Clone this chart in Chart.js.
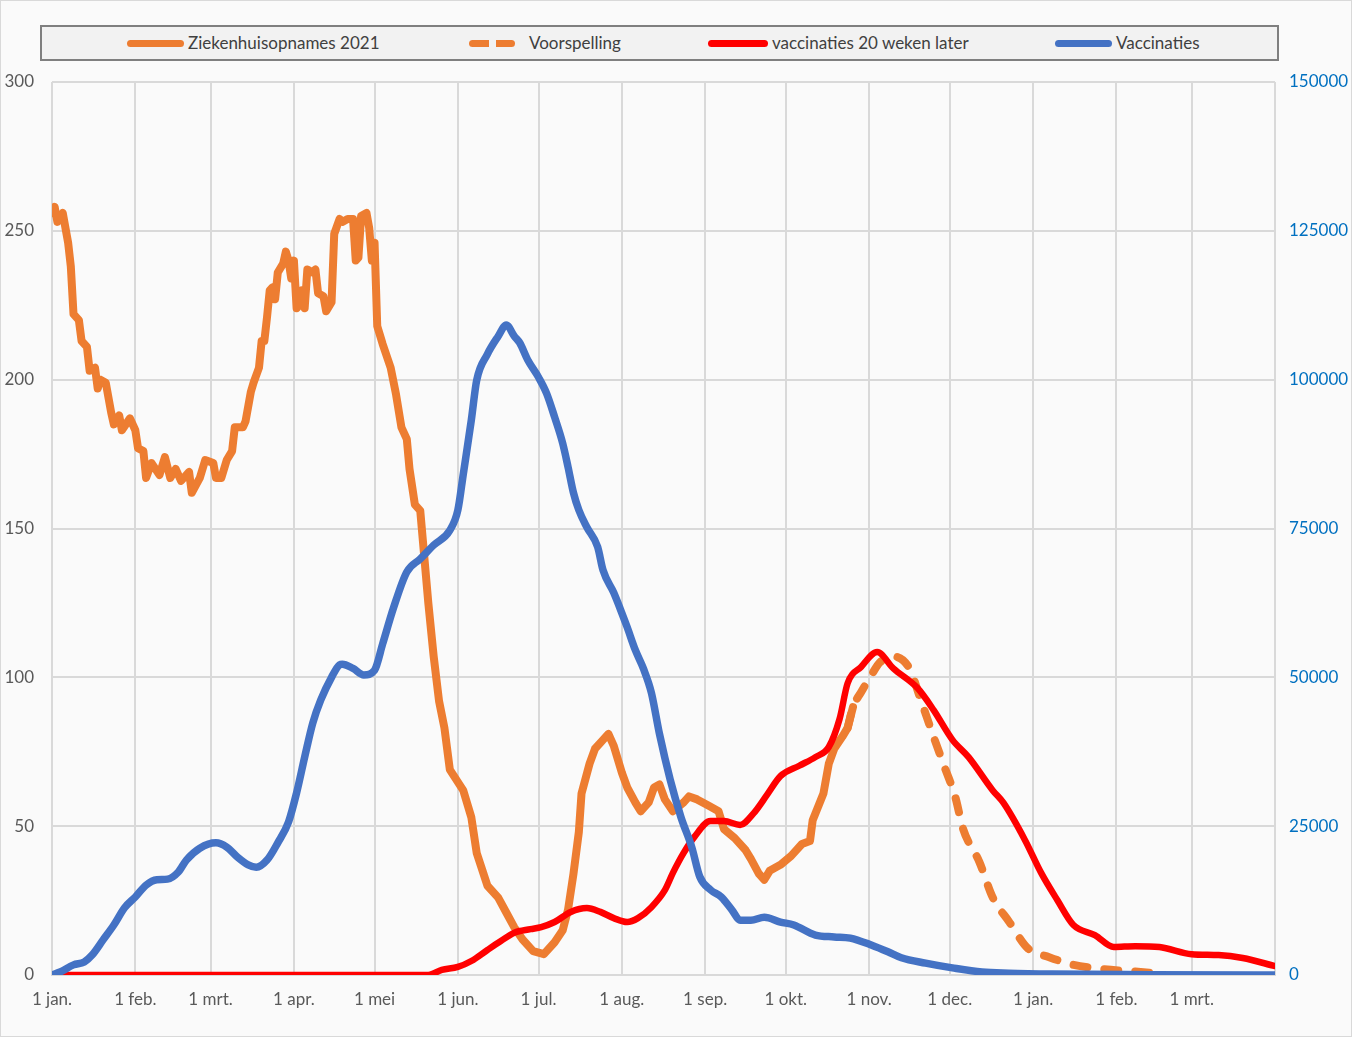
<!DOCTYPE html>
<html>
<head>
<meta charset="utf-8">
<script src="https://cdn.jsdelivr.net/npm/chart.js@4.4.1/dist/chart.umd.min.js"></script>
<style>
    html, body { margin: 0; padding: 0; background: #fff; }
    #wrap {
        position: relative;
        width: 1350px;
        height: 1035px;
        border: 1px solid #d9d9d9;
        background: #fafafa;
        font-family: Lato, "Open Sans", sans-serif;
    }
    #legend {
        position: absolute;
        left: 39px;
        top: 24px;
        width: 1235px;
        height: 32px;
        background: #f2f2f2;
        border: 2px solid #7f7f7f;
    }
    .item {
        position: absolute;
        top: 0;
        height: 32px;
        line-height: 32px;
        font-size: 17px;
        color: #404040;
        white-space: nowrap;
    }
    .swatch {
        display: inline-block;
        vertical-align: middle;
        height: 7px;
        border-radius: 4px;
        margin-right: 4px;
        position: relative;
        top: -1px;
    }
    canvas { display: block; }
</style>
</head>
<body>
<div id="wrap">
    <canvas id="chart" width="1350" height="1035"></canvas>
    <div id="legend"></div>
</div>
<script>
// x = days since 1 jan 2021
const monthDays = [0, 31, 59, 90, 120, 151, 181, 212, 243, 273, 304, 334, 365, 396, 424, 455];
const monthLabels = ['1 jan.', '1 feb.', '1 mrt.', '1 apr.', '1 mei', '1 jun.', '1 jul.', '1 aug.',
    '1 sep.', '1 okt.', '1 nov.', '1 dec.', '1 jan.', '1 feb.', '1 mrt.', ''];

const seriesNames = ['Ziekenhuisopnames 2021', 'Voorspelling', 'vaccinaties 20 weken later', 'Vaccinaties'];
const seriesColors = ['#ED7D31', '#ED7D31', '#FF0000', '#4472C4'];

const opnameDagen = [0, 1, 2, 4, 6, 7, 8, 10, 11, 13, 14, 16, 17, 18, 20, 22, 23, 25, 26, 29, 31, 32, 34, 35, 37, 40, 42, 44, 46, 48,
    51, 52, 55, 57, 60, 61, 63, 65, 67, 68, 71, 72, 74, 75, 77, 78, 79, 80, 81, 82, 83, 84, 86, 87, 88, 89, 90, 91, 92, 93,
    94, 95, 97, 98, 99, 101, 102, 104, 105, 107, 108, 110, 112, 113, 114, 115, 117, 118, 119, 120, 121, 123, 126, 128, 130,
    132, 133, 135, 137, 140, 142, 144, 146, 148, 153, 156, 158, 162, 166, 169, 172, 175, 179, 183, 187, 190, 192, 194, 196,
    197, 200, 202, 205, 207, 209, 212, 214, 217, 219, 222, 224, 226, 228, 231, 235, 237, 240, 244, 248, 250, 254, 258, 260,
    263, 265, 267, 271, 275, 279, 282, 283, 287, 289, 291, 294, 296, 298];
const opnameWaarden = [256, 258, 253, 256, 246, 238, 222, 220, 213, 211, 203, 204, 197, 200, 199, 189, 185, 188, 183, 187, 183, 177, 176, 167, 172, 168, 174, 167, 170, 166,
    169, 162, 167, 173, 172, 167, 167, 173, 176, 184, 184, 186, 196, 199, 204, 213, 213, 221, 230, 231, 227, 236, 239, 243, 240, 234, 240, 224, 225, 230,
    224, 237, 236, 237, 229, 228, 223, 226, 249, 254, 253, 254, 254, 240, 241, 255, 256, 251, 240, 246, 218, 212, 204, 195, 184,
    180, 170, 158, 156, 125, 107, 92, 83, 69, 62, 53, 41, 30, 26, 21, 16, 12, 8, 7, 11, 15, 22, 34, 48,
    61, 71, 76, 79, 81, 77, 68, 63, 58, 55, 58, 63, 64, 59, 55, 58, 60, 59, 57, 55, 49, 46, 42, 39,
    34, 32, 35, 37, 40, 44, 45, 52, 61, 71, 76, 80, 83, 90];

const voorspellingDagen = [296, 298, 301, 305, 308, 313, 319, 323, 328, 332, 336, 339, 345, 350, 356, 363, 371, 380, 391, 405, 413];
const voorspellingWaarden = [83, 90, 95, 101, 105, 107, 103, 93, 80, 70, 60, 49, 38, 26, 18, 9, 6, 3.4, 2, 1, 0.3];

const laterDagen = [0, 140, 145, 151, 156, 162, 167, 172, 178, 182, 187, 193, 199, 204, 209, 214, 218, 223, 228, 231, 235, 239,
    245, 250, 256, 261, 266, 271, 278, 284, 289, 293, 296, 301, 307, 313, 322, 328, 335, 341, 350, 354, 362, 368, 374,
    380, 388, 395, 403, 412, 424, 434, 443, 455];
const laterWaarden = [0, 0, 1.7, 2.7, 4.7, 8.4, 11.4, 14.2, 15.4, 16.1, 17.8, 21.2, 22.5, 21.2, 19.1, 17.8, 19.1, 22.8, 28.5, 34.3, 41, 46.4,
    51.7, 51.7, 50.4, 54.3, 60.5, 66.8, 70.3, 73.2, 76.6, 86, 98, 103.5, 108.5, 103, 96.4, 89, 79, 73.2, 62, 57.8, 45.3, 34.3, 25.2,
    16.8, 13.4, 9.4, 9.7, 9.4, 7, 6.7, 5.7, 3];

const vaccinatieDagen = [0, 3, 8, 12, 15, 19, 23, 27, 31, 35, 39, 43, 47, 50, 55, 61, 65, 69, 73, 76, 80, 84, 88, 91, 94, 97, 100,
    104, 107, 108, 112, 116, 120, 123, 127, 132, 137, 142, 148, 151, 153, 156, 158, 162, 166, 169, 172, 174, 177, 181, 184,
    187, 190, 192, 194, 196, 199, 203, 205, 209, 212, 214, 217, 220, 223, 226, 230, 234, 238, 241, 245, 249, 253, 256, 260,
    265, 271, 276, 284, 291, 297, 305, 311, 316, 325, 335, 346, 356, 372, 409, 455];
const vaccinatieWaarden = [0, 500, 1700, 2200, 3400, 5900, 8400, 11300, 13100, 15100, 16000, 16100, 17300, 19300, 21300, 22200, 21500, 19800, 18500, 18100, 19300, 22200, 25700, 30600, 36600, 42300, 46200,
    50000, 52100, 52200, 51500, 50400, 51200, 55600, 61600, 67700, 69900, 72200, 74700, 78100, 84100, 93200, 99900, 104300, 107300, 109200, 107300, 106200, 103300, 100400, 97700,
    93700, 89300, 85300, 81000, 78100, 75200, 71900, 68000, 64200, 60800, 58400, 54600, 51500, 47400, 40500, 32800, 26500, 21500, 16500, 14300, 13100, 10900, 9200, 9200,
    9700, 8900, 8400, 6700, 6400, 6200, 5000, 3900, 2900, 2000, 1200, 500, 300, 150, 50, 0];

function toPoints(days, values) {
    return days.map((d, i) => ({ x: d, y: values[i] }));
}

// legend (html, Excel style box)
const legendLefts = [85, 427, 666, 1013];
const legendSwatchWidths = [57, 46, 60, 57];
const legend = document.getElementById('legend');
seriesNames.forEach((name, i) => {
    const item = document.createElement('div');
    item.className = 'item';
    item.style.left = legendLefts[i] + 'px';
    const sw = document.createElement('span');
    sw.className = 'swatch';
    sw.style.width = legendSwatchWidths[i] + 'px';
    if (i === 1) {
        sw.style.background = 'repeating-linear-gradient(90deg, ' + seriesColors[i] + ' 0 20px, transparent 20px 27px)';
        sw.style.marginRight = '14px';
    } else {
        sw.style.background = seriesColors[i];
    }
    item.appendChild(sw);
    item.appendChild(document.createTextNode(name));
    legend.appendChild(item);
});

const gridColor = '#d9d9d9';
const tickFont = { family: 'Lato', size: 17 };

new Chart(document.getElementById('chart'), {
    type: 'line',
    data: {
        datasets: [
            {
                label: seriesNames[0],
                data: toPoints(opnameDagen, opnameWaarden),
                borderColor: seriesColors[0],
                borderWidth: 8,
                tension: 0,
                yAxisID: 'y',
                order: 4
            },
            {
                label: seriesNames[1],
                data: toPoints(voorspellingDagen, voorspellingWaarden),
                borderColor: seriesColors[1],
                borderWidth: 8,
                borderDash: [14, 17],
                cubicInterpolationMode: 'monotone',
                yAxisID: 'y',
                order: 3
            },
            {
                label: seriesNames[2],
                data: toPoints(laterDagen, laterWaarden),
                borderColor: seriesColors[2],
                borderWidth: 6.5,
                cubicInterpolationMode: 'monotone',
                yAxisID: 'y',
                order: 2
            },
            {
                label: seriesNames[3],
                data: toPoints(vaccinatieDagen, vaccinatieWaarden),
                borderColor: seriesColors[3],
                borderWidth: 7.5,
                cubicInterpolationMode: 'monotone',
                yAxisID: 'y1',
                order: 1
            }
        ]
    },
    options: {
        responsive: false,
        animation: false,
        elements: {
            point: { radius: 0 },
            line: { borderCapStyle: 'round', borderJoinStyle: 'round', fill: false }
        },
        layout: { padding: { top: 81, right: 0, bottom: 0, left: 0 } },
        plugins: {
            legend: { display: false },
            tooltip: { enabled: false }
        },
        scales: {
            x: {
                type: 'linear',
                min: 0,
                max: 455,
                afterBuildTicks: function(scale) {
                    scale.ticks = monthDays.map(d => ({ value: d }));
                },
                afterFit: function(scale) {
                    scale.height = 61;
                },
                ticks: {
                    autoSkip: false,
                    maxRotation: 0,
                    padding: 14,
                    color: '#595959',
                    font: tickFont,
                    callback: function(value) {
                        return monthLabels[monthDays.indexOf(value)];
                    }
                },
                grid: { color: gridColor, lineWidth: 2, drawTicks: false },
                border: { display: true, color: gridColor, width: 2 }
            },
            y: {
                position: 'left',
                min: 0,
                max: 300,
                afterFit: function(scale) {
                    scale.width = 51;
                },
                ticks: {
                    stepSize: 50,
                    padding: 18,
                    color: '#595959',
                    font: tickFont
                },
                grid: { color: gridColor, lineWidth: 2, drawTicks: false },
                border: { display: false }
            },
            y1: {
                position: 'right',
                min: 0,
                max: 150000,
                afterFit: function(scale) {
                    scale.width = 76;
                },
                ticks: {
                    stepSize: 25000,
                    padding: 14,
                    color: '#0070C0',
                    font: tickFont,
                    callback: function(value) {
                        return String(value);
                    }
                },
                grid: { drawOnChartArea: false, drawTicks: false },
                border: { display: false }
            }
        }
    }
});
</script>
</body>
</html>
